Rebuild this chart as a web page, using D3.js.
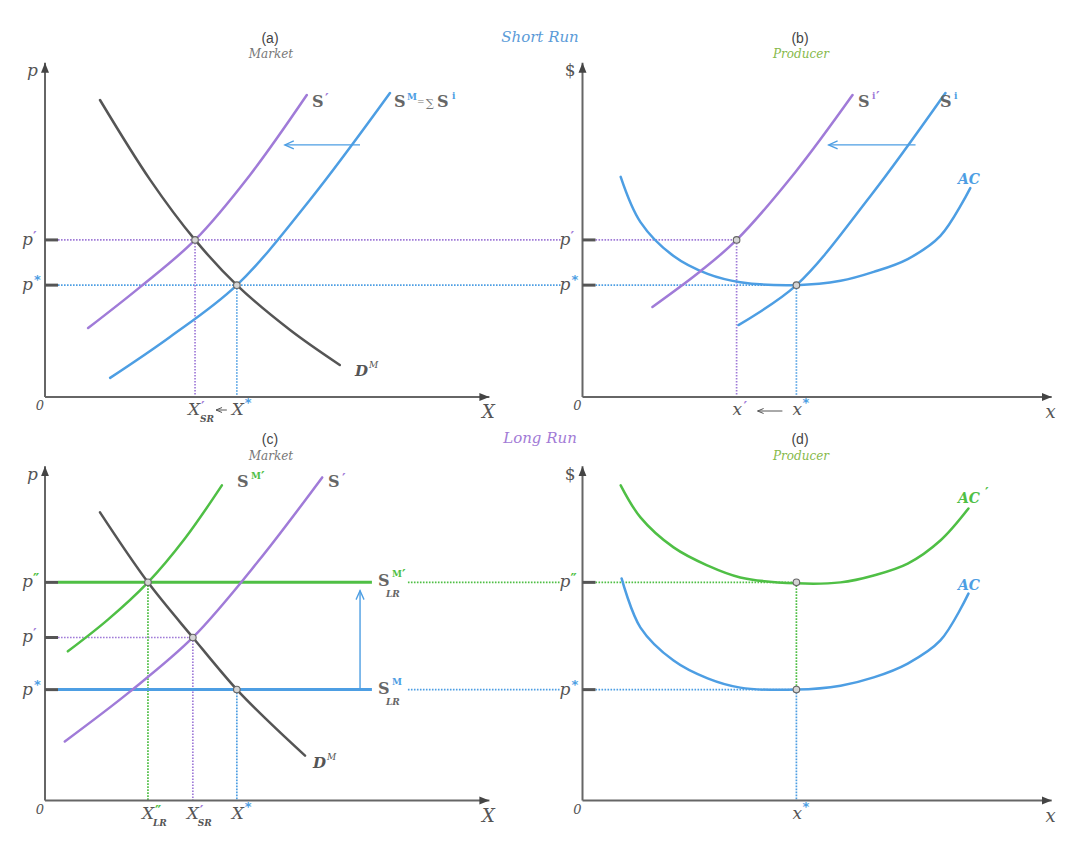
<!DOCTYPE html>
<html><head><meta charset="utf-8">
<script src="https://cdn.jsdelivr.net/npm/d3@7"></script>
<style>body{margin:0;background:#fff}</style>
</head><body><svg id="chart" width="1084" height="845"></svg>
<script>
// ---------- DATA (economic units, 0-100 on each axis) ----------
// price levels
const topPrices = [33.9, 47.6];               // p*, p'  (short run panels a,b)
const bottomPrices = [33.6, 49.4, 66.1];      // p*, p', p'' (long run panels c,d)
// quantities
const qtyA = [43.6, 34.1];                    // X*, X'_SR
const qtyB = [46.5, 33.5];                    // x*, x'
const qtyC = [43.6, 33.6, 23.4];              // X*, X'_SR, X''_LR
const qtyD = [46.5];                          // x*
// panel (a) market short run
const demandA = [[12.5,90],[23.9,65.8],[34.1,47.6],[43.6,33.9],[55.7,20.3],[67.0,9.7]];
const supplyPrimeA = [[9.8,20.9],[21.6,33.3],[34.1,47.6],[46.6,67.3],[59.5,91.5]];
const supplyMA = [[14.8,5.8],[28.4,18.2],[43.6,33.9],[60.2,59.7],[78.4,92.1]];
const shiftArrowA = [[71.6,76.4],[54.5,76.4]];
// panel (b) producer short run
const acB = [[8.3,66.7],[12.6,53.0],[19.8,42.7],[27.2,37.3],[34.3,34.8],[46.5,33.9],[56.1,35.2],[63.3,37.9],[70.7,41.8],[77.8,48.8],[84.3,63.3]];
const supplyIB = [[33.9,21.8],[46.5,33.9],[62.6,60.9],[78.9,92.1]];
const supplyIPrimeB = [[15.2,27.3],[25.7,38.2],[33.5,47.6],[46.3,68.2],[58.7,91.5]];
const shiftArrowB = [[72.4,76.4],[53.5,76.4]];
// panel (c) market long run
const demandC = [[12.5,87.3],[23.4,66.1],[33.6,49.4],[43.6,33.6],[51.1,23.6],[59.1,13.6]];
const supplyMPrimeC = [[5.2,45.2],[14.3,54.8],[23.4,66.1],[31.8,79.4],[40.2,95.5]];
const supplyPrimeC = [[4.5,17.9],[19.3,33.0],[33.6,49.4],[48.4,72.4],[63.0,97.9]];
const lrSupplyEnd = [74.3];
const shiftArrowC = [[71.6,33.6],[71.6,63.6]];
// panel (d) producer long run
const acD = [[8.5,67.3],[12.6,52.4],[19.8,42.4],[27.2,37.0],[34.3,34.2],[46.5,33.6],[56.1,34.8],[63.3,37.3],[70.7,41.5],[77.8,48.5],[83.9,62.7]];
const acPrimeD = [[8.3,95.5],[12.6,85.8],[19.8,76.7],[27.2,71.2],[34.3,67.6],[46.5,65.8],[56.1,66.1],[63.3,68.2],[70.7,71.8],[77.8,78.8],[83.9,88.5]];

// ---------- STYLE ----------
const C = {blue:'#4d9ee3', purple:'#a07bd8', green:'#4fbf45', dark:'#555', axis:'#666', text:'#666',
           prodGreen:'#86b94a', shortBlue:'#5b9bd8', longPurple:'#a27bd6'};
const svg = d3.select('#chart');
const defs = svg.append('defs');
defs.append('marker').attr('id','axArrow').attr('markerUnits','userSpaceOnUse')
  .attr('markerWidth',12).attr('markerHeight',10).attr('viewBox','-10 -5 12 10')
  .attr('refX',0).attr('refY',0).attr('orient','auto')
  .append('path').attr('d','M-10,-4 L0,0 L-10,4 Z').attr('fill','#444');
defs.append('marker').attr('id','openArrow').attr('markerUnits','userSpaceOnUse')
  .attr('markerWidth',14).attr('markerHeight',12).attr('viewBox','-12 -6 14 12')
  .attr('refX',0).attr('refY',0).attr('orient','auto')
  .append('path').attr('d','M-9,-4 L0,0 L-9,4').attr('fill','none').attr('stroke',C.blue).attr('stroke-width',1.3);
defs.append('marker').attr('id','smallArrow').attr('markerUnits','userSpaceOnUse')
  .attr('markerWidth',8).attr('markerHeight',8).attr('viewBox','-7 -4 8 8')
  .attr('refX',0).attr('refY',0).attr('orient','auto')
  .append('path').attr('d','M-6,-2.5 L0,0 L-6,2.5').attr('fill','none').attr('stroke','#555').attr('stroke-width',1);

const mk = (x0,y0,w,h)=>({x:d3.scaleLinear().domain([0,100]).range([x0,x0+w]),
                          y:d3.scaleLinear().domain([0,100]).range([y0,y0-h])});
const P = {a:mk(45,397,440,330), b:mk(582.5,397,460,330), c:mk(45,800.5,440,330), d:mk(582.5,800.5,460,330)};

const layers = {dots:svg.append('g'), axes:svg.append('g'), curves:svg.append('g'), marks:svg.append('g'), text:svg.append('g')};

function txt(x,y,s,o={}){
  return layers.text.append('text').attr('x',x).attr('y',y).text(s)
    .attr('font-family',o.ff||'DejaVu Serif').attr('font-size',o.fs||16)
    .attr('font-style',o.it?'italic':'normal').attr('font-weight',o.b?'bold':'normal')
    .attr('fill',o.c||C.text).attr('text-anchor',o.a||'start');
}
// prime marks (short slanted strokes) as text
function prime(x,y,n,color){ return txt(x,y,n===2?'″':'′',{fs:14,b:true,c:color}); }
function curve(s,data,color,w=2.5){
  const line=d3.line().x(d=>s.x(d[0])).y(d=>s.y(d[1])).curve(d3.curveCatmullRom.alpha(0.5));
  layers.curves.append('path').attr('d',line(data)).attr('fill','none').attr('stroke',color)
    .attr('stroke-width',w).attr('stroke-linecap','round');
}
function dotted(x1,y1,x2,y2,color){
  layers.dots.append('line').attr('x1',x1).attr('y1',y1).attr('x2',x2).attr('y2',y2)
    .attr('stroke',color).attr('stroke-width',1.7).attr('stroke-dasharray','1.6,1.4');
}
function marker(s,q,p){
  layers.marks.append('circle').attr('cx',s.x(q)).attr('cy',s.y(p)).attr('r',3.3)
    .attr('fill','#d4d4d4').attr('stroke','#666').attr('stroke-width',1.1);
}
function arrow(s,pts){
  layers.curves.append('line').attr('x1',s.x(pts[0][0])).attr('y1',s.y(pts[0][1]))
    .attr('x2',s.x(pts[1][0])).attr('y2',s.y(pts[1][1]))
    .attr('stroke',C.blue).attr('stroke-width',1.4).attr('marker-end','url(#openArrow)');
}
function axes(s,xmax,ylab,xlab){
  const x0=s.x(0), y0=s.y(0);
  layers.axes.append('line').attr('x1',x0).attr('y1',y0).attr('x2',x0).attr('y2',s.y(101.3))
    .attr('stroke',C.axis).attr('stroke-width',2).attr('marker-end','url(#axArrow)');
  layers.axes.append('line').attr('x1',x0).attr('y1',y0).attr('x2',s.x(xmax)).attr('y2',y0)
    .attr('stroke',C.axis).attr('stroke-width',2).attr('marker-end','url(#axArrow)');
  txt(x0-7,s.y(100)+9,ylab,{it:ylab==='p',fs:17,a:'end',c:'#555'});
  txt(x0-5,y0+13,'0',{it:true,fs:13,a:'middle',c:'#555'});
  txt(s.x(xmax)-1,y0+21,xlab,{it:true,fs:18,a:'middle',c:'#555'});
}
function tick(s,p){
  layers.axes.append('line').attr('x1',s.x(0)).attr('x2',s.x(0)+13).attr('y1',s.y(p)).attr('y2',s.y(p))
    .attr('stroke','#555').attr('stroke-width',3);
}
function pLabel(s,p,sup,color){
  const x=s.x(0), y=s.y(p);
  txt(x-23,y+5,'p',{it:true,fs:17,c:'#555'});
  if(sup==='*') txt(x-11,y-1,'*',{ff:'DejaVu Sans',b:true,fs:13,c:color});
  else prime(x-12,y+2,sup,color);
}

// ---------- AXES ----------
axes(P.a,101,'p','X'); axes(P.b,102,'$','x'); axes(P.c,101,'p','X'); axes(P.d,102,'$','x');

// ---------- PANEL (a) & (b): short run ----------
const [pS,pP]=topPrices;
dotted(P.a.x(0)+13,P.a.y(pP),P.b.x(0)-22,P.a.y(pP),C.purple);
dotted(P.a.x(0)+13,P.a.y(pS),P.b.x(0)-22,P.a.y(pS),C.blue);
dotted(P.b.x(0)+13,P.b.y(pP),P.b.x(qtyB[1]),P.b.y(pP),C.purple);
dotted(P.b.x(0)+13,P.b.y(pS),P.b.x(qtyB[0]),P.b.y(pS),C.blue);
dotted(P.a.x(qtyA[1]),P.a.y(pP),P.a.x(qtyA[1]),P.a.y(0),C.purple);
dotted(P.a.x(qtyA[0]),P.a.y(pS),P.a.x(qtyA[0]),P.a.y(0),C.blue);
dotted(P.b.x(qtyB[1]),P.b.y(pP),P.b.x(qtyB[1]),P.b.y(0),C.purple);
dotted(P.b.x(qtyB[0]),P.b.y(pS),P.b.x(qtyB[0]),P.b.y(0),C.blue);
[P.a,P.b].forEach(s=>{tick(s,pP);tick(s,pS);pLabel(s,pP,1,C.purple);pLabel(s,pS,'*',C.blue);});

curve(P.a,demandA,'#555'); curve(P.a,supplyPrimeA,C.purple); curve(P.a,supplyMA,C.blue);
arrow(P.a,shiftArrowA);
marker(P.a,qtyA[1],pP); marker(P.a,qtyA[0],pS);

curve(P.b,acB,C.blue); curve(P.b,supplyIB,C.blue); curve(P.b,supplyIPrimeB,C.purple);
arrow(P.b,shiftArrowB);
marker(P.b,qtyB[1],pP); marker(P.b,qtyB[0],pS);

// labels (a)
txt(312,107,'S',{b:true,fs:16}); prime(325,104,1,C.purple);
txt(394,107,'S',{b:true,fs:16}); txt(407,100,'M',{b:true,fs:9,c:C.blue});
txt(417,105,'=',{fs:9,c:'#777'}); txt(426,107,'∑',{fs:11,c:'#777'}); txt(437,107,'S',{b:true,fs:16}); txt(452,99,'i',{b:true,fs:9,c:C.blue});
txt(355,376,'D',{it:true,b:true,fs:15,c:'#555'}); txt(369,368,'M',{it:true,fs:9,c:'#555'});
{ const xp=P.a.x(qtyA[1]), xs=P.a.x(qtyA[0]), y=P.a.y(0)+18;
  txt(xp-7,y,'X',{it:true,fs:17,c:'#555'}); prime(xp+6,y-3,1,C.purple); txt(xp+5,y+7,'SR',{it:true,b:true,fs:9,c:'#555'});
  layers.text.append('line').attr('x1',xs-10).attr('x2',xp+21).attr('y1',y-5).attr('y2',y-5).attr('stroke','#555').attr('stroke-width',1).attr('marker-end','url(#smallArrow)');
  txt(xs-5,y,'X',{it:true,fs:17,c:'#555'}); txt(xs+8,y-8,'*',{ff:'DejaVu Sans',b:true,fs:13,c:C.blue});
}
// labels (b)
txt(858,107,'S',{b:true,fs:16}); txt(872,99,'i',{b:true,fs:9,c:C.purple}); prime(876,102,1,C.purple);
txt(940,107,'S',{b:true,fs:16}); txt(954,99,'i',{b:true,fs:9,c:C.blue});
txt(958,184,'AC',{b:true,it:true,fs:14,c:C.blue});
{ const xp=P.b.x(qtyB[1]), xs=P.b.x(qtyB[0]), y=P.b.y(0)+18;
  txt(xp-4,y,'x',{it:true,fs:17,c:'#555'}); prime(xp+7,y-3,1,C.purple);
  layers.text.append('line').attr('x1',xs-14).attr('x2',xp+21).attr('y1',y-4).attr('y2',y-4).attr('stroke','#555').attr('stroke-width',1).attr('marker-end','url(#smallArrow)');
  txt(xs-4,y,'x',{it:true,fs:17,c:'#555'}); txt(xs+6,y-8,'*',{ff:'DejaVu Sans',b:true,fs:13,c:C.blue});
}

// ---------- PANEL (c) & (d): long run ----------
const [qS,qP,qD]=bottomPrices;
dotted(P.c.x(0)+13,P.c.y(qP),P.c.x(qtyC[1]),P.c.y(qP),C.purple);
dotted(P.c.x(lrSupplyEnd[0])+36,P.c.y(qD),P.d.x(0)-22,P.c.y(qD),C.green);
dotted(P.c.x(lrSupplyEnd[0])+36,P.c.y(qS),P.d.x(0)-22,P.c.y(qS),C.blue);
dotted(P.d.x(0)+13,P.d.y(qD),P.d.x(qtyD[0]),P.d.y(qD),C.green);
dotted(P.d.x(0)+13,P.d.y(qS),P.d.x(qtyD[0]),P.d.y(qS),C.blue);
dotted(P.c.x(qtyC[2]),P.c.y(qD),P.c.x(qtyC[2]),P.c.y(0),C.green);
dotted(P.c.x(qtyC[1]),P.c.y(qP),P.c.x(qtyC[1]),P.c.y(0),C.purple);
dotted(P.c.x(qtyC[0]),P.c.y(qS),P.c.x(qtyC[0]),P.c.y(0),C.blue);
dotted(P.d.x(qtyD[0]),P.d.y(qD),P.d.x(qtyD[0]),P.d.y(qS),C.green);
dotted(P.d.x(qtyD[0]),P.d.y(qS),P.d.x(qtyD[0]),P.d.y(0),C.blue);
[qD,qP,qS].forEach(p=>tick(P.c,p)); [qD,qS].forEach(p=>tick(P.d,p));
pLabel(P.c,qD,2,C.green); pLabel(P.c,qP,1,C.purple); pLabel(P.c,qS,'*',C.blue);
pLabel(P.d,qD,2,C.green); pLabel(P.d,qS,'*',C.blue);

// long-run supply lines
layers.curves.append('line').attr('x1',P.c.x(0)+13).attr('x2',P.c.x(lrSupplyEnd[0])).attr('y1',P.c.y(qD)).attr('y2',P.c.y(qD))
  .attr('stroke',C.green).attr('stroke-width',3);
layers.curves.append('line').attr('x1',P.c.x(0)+13).attr('x2',P.c.x(lrSupplyEnd[0])).attr('y1',P.c.y(qS)).attr('y2',P.c.y(qS))
  .attr('stroke',C.blue).attr('stroke-width',3);
curve(P.c,demandC,'#555'); curve(P.c,supplyMPrimeC,C.green); curve(P.c,supplyPrimeC,C.purple);
arrow(P.c,shiftArrowC);
marker(P.c,qtyC[2],qD); marker(P.c,qtyC[1],qP); marker(P.c,qtyC[0],qS);

curve(P.d,acPrimeD,C.green); curve(P.d,acD,C.blue);
marker(P.d,qtyD[0],qD); marker(P.d,qtyD[0],qS);

// labels (c)
txt(237,487,'S',{b:true,fs:16}); txt(251,479,'M',{b:true,fs:9,c:C.green}); prime(261,482,1,C.green);
txt(328,487,'S',{b:true,fs:16}); prime(342,484,1,C.purple);
{ const xe=P.c.x(lrSupplyEnd[0])+6;
  txt(xe,P.c.y(qD)+4,'S',{b:true,fs:16}); txt(xe+14,P.c.y(qD)-5,'M',{b:true,fs:9,c:C.green}); prime(xe+24,P.c.y(qD)-2,1,C.green);
  txt(xe+8,P.c.y(qD)+15,'LR',{b:true,it:true,fs:9});
  txt(xe,P.c.y(qS)+4,'S',{b:true,fs:16}); txt(xe+14,P.c.y(qS)-5,'M',{b:true,fs:9,c:C.blue});
  txt(xe+8,P.c.y(qS)+15,'LR',{b:true,it:true,fs:9});
}
txt(313,768,'D',{it:true,b:true,fs:15,c:'#555'}); txt(327,760,'M',{it:true,fs:9,c:'#555'});
{ const y=P.c.y(0)+18;
  const x2=P.c.x(qtyC[2]), x1=P.c.x(qtyC[1]), x0=P.c.x(qtyC[0]);
  txt(x2-6,y,'X',{it:true,fs:17,c:'#555'}); prime(x2+7,y-3,2,C.green); txt(x2+5,y+7,'LR',{it:true,b:true,fs:9,c:'#555'});
  txt(x1-6,y,'X',{it:true,fs:17,c:'#555'}); prime(x1+7,y-3,1,C.purple); txt(x1+5,y+7,'SR',{it:true,b:true,fs:9,c:'#555'});
  txt(x0-5,y,'X',{it:true,fs:17,c:'#555'}); txt(x0+8,y-8,'*',{ff:'DejaVu Sans',b:true,fs:13,c:C.blue});
}
// labels (d)
txt(958,503,'AC',{b:true,it:true,fs:14,c:C.green}); prime(985,498,1,C.green);
txt(958,590,'AC',{b:true,it:true,fs:14,c:C.blue});
{ const xs=P.d.x(qtyD[0]), y=P.d.y(0)+18;
  txt(xs-4,y,'x',{it:true,fs:17,c:'#555'}); txt(xs+6,y-8,'*',{ff:'DejaVu Sans',b:true,fs:13,c:C.blue}); }

// ---------- TITLES ----------
const sans='Liberation Sans';
txt(270,43,'(a)',{ff:sans,fs:14,a:'middle',c:'#444'}); txt(271,58,'Market',{it:true,fs:12,a:'middle',c:'#777'});
txt(800,43,'(b)',{ff:sans,fs:14,a:'middle',c:'#444'}); txt(801,58,'Producer',{it:true,fs:12,a:'middle',c:C.prodGreen});
txt(540,42,'Short Run',{it:true,fs:15,a:'middle',c:C.shortBlue});
txt(270,444,'(c)',{ff:sans,fs:14,a:'middle',c:'#444'}); txt(271,460,'Market',{it:true,fs:12,a:'middle',c:'#777'});
txt(800,444,'(d)',{ff:sans,fs:14,a:'middle',c:'#444'}); txt(801,460,'Producer',{it:true,fs:12,a:'middle',c:C.prodGreen});
txt(540,443,'Long Run',{it:true,fs:15,a:'middle',c:C.longPurple});
</script></body></html>
